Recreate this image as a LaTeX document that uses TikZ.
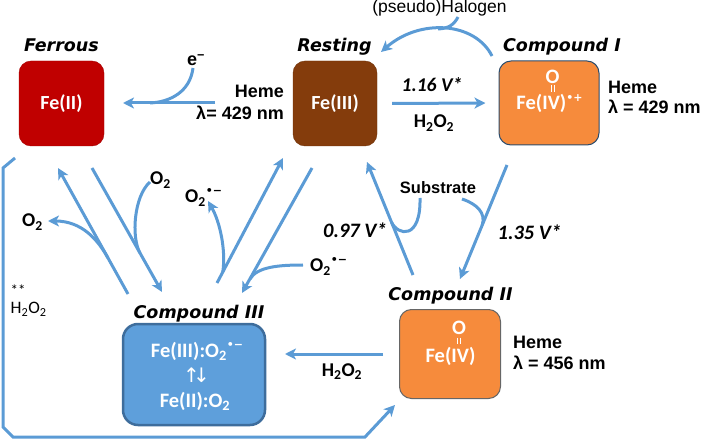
\documentclass[tikz,border=0pt]{standalone}
\usepackage{fontspec}
\setmainfont{Carlito}
\newfontfamily\labfont{DejaVu Sans Bold Oblique}
\newfontfamily\arfont{Liberation Sans}
\newfontfamily\djfont{DejaVu Sans}
\usetikzlibrary{arrows.meta}
\newcommand\hoo{H\textsubscript{2}O\textsubscript{2}}
\newcommand\rad[1]{\raisebox{0.42em}{\djfont\bfseries\fontsize{11}{11}\selectfont #1}}
\definecolor{acol}{HTML}{5B9BD5}
\definecolor{redc}{HTML}{C00000}
\definecolor{brownc}{HTML}{843C0C}
\definecolor{orangec}{HTML}{F68B3C}
\definecolor{bluec}{HTML}{5E9FDB}
\definecolor{blueb}{HTML}{3E6D9C}
\begin{document}
\begin{tikzpicture}[x=1pt,y=-1pt,
  arr/.style={draw=acol,line width=3pt,-{Stealth[length=11pt,width=11pt,inset=3pt]}},
  brn/.style={draw=acol,line width=3pt},
  statebox/.style={rectangle,rounded corners=12pt,inner sep=0pt,text=white,font=\bfseries\fontsize{20}{22}\selectfont},
  lbl/.style={font=\labfont\fontsize{17.5}{20}\selectfont,inner sep=0pt},
  heme/.style={font=\arfont\bfseries\fontsize{18}{20}\selectfont,inner sep=0pt},
  chem/.style={font=\bfseries\fontsize{19.5}{20}\selectfont,inner sep=0pt},
  wchem/.style={font=\bfseries\fontsize{20.5}{22}\selectfont,inner sep=0pt,text=white},
  volt/.style={font=\bfseries\itshape\fontsize{19.5}{20}\selectfont,inner sep=0pt},
  voltb/.style={font=\bfseries\itshape\fontsize{20.5}{22}\selectfont,inner sep=0pt}]
\useasboundingbox (0,0) rectangle (705,441);

% state boxes
\node[statebox,fill=redc,draw=redc!85!black,minimum width=85pt,minimum height=85pt] (fe2) at (61.5,103.5) {Fe(II)};
\node[statebox,fill=brownc,draw=brownc!85!black,minimum width=84pt,minimum height=85pt] (fe3) at (335,103.5) {Fe(III)};
\node[statebox,fill=orangec,draw=blueb!70!black,line width=1pt,minimum width=100pt,minimum height=84pt] (c1) at (549,103) {};
\node[statebox,fill=orangec,draw=black!60,line width=1pt,minimum width=101pt,minimum height=89pt] (c2) at (450,354) {};
\node[statebox,rounded corners=15pt,fill=bluec,draw=blueb,line width=2.5pt,minimum width=142pt,minimum height=101pt] (c3) at (194,374.5) {};

% box contents
\node[wchem] (c1o) at (552.5,77) {O};
\draw[white,line width=1pt] (551,85.5) -- (551,92.5) (554,85.5) -- (554,92.5);
\node[wchem,anchor=base] (c1fe) at (549.5,110) {Fe(IV)\rad{•+}};
\node[wchem] (c2o) at (459,327.5) {O};
\draw[white,line width=1pt] (457.5,337.5) -- (457.5,344) (460.5,337.5) -- (460.5,344);
\node[wchem,anchor=base] (c2fe) at (450.5,362) {Fe(IV)};
\node[wchem,anchor=base] (c3a) at (197,357) {Fe(III):O\textsubscript{2}\rad{•−}};
\node[text=white,font=\djfont\fontsize{20}{22}\selectfont,inner sep=0pt] (c3b) at (196.5,375) {↑\kern-7pt↓};
\node[wchem,anchor=base] (c3c) at (195,407) {Fe(II):O\textsubscript{2}};

% titles
\node[lbl,anchor=base] (lferr) at (61.5,52) {Ferrous};
\node[lbl,anchor=base] (lrest) at (334.5,52) {Resting};
\node[lbl,anchor=base] (lc1) at (562,52) {Compound I};
\node[lbl,anchor=base] (lc3) at (199,318) {Compound III};
\node[lbl,anchor=base] (lc2) at (450.5,300) {Compound II};

% heme labels
\node[heme,anchor=base east] (h1) at (284,98) {Heme};
\node[heme,anchor=base east] (h1b) at (284,120) {λ= 429 nm};
\node[heme,anchor=base west] (h2) at (608,94) {Heme};
\node[heme,anchor=base west] (h2b) at (608,114) {λ = 429 nm};
\node[heme,anchor=base west] (h3) at (513,348) {Heme};
\node[heme,anchor=base west] (h3b) at (513,369) {λ = 456 nm};

% other labels
\node[heme] (em) at (196,60) {e\textsuperscript{−}};
\node[font=\arfont\fontsize{17.5}{18}\selectfont,inner sep=0pt,anchor=base] (hal) at (439.5,13) {(pseudo)Halogen};
\node[volt,anchor=base] (v1) at (432,92) {1.16 V*};
\node[chem,anchor=base] (hp1) at (434,128) {\hoo};
\node[voltb,anchor=base] (v2) at (355,238) {0.97 V*};
\node[voltb,anchor=base] (v3) at (529.5,240) {1.35 V*};
\node[font=\arfont\bfseries\fontsize{16.5}{18}\selectfont,inner sep=0pt,anchor=base] (sub) at (438,194) {Substrate};
\node[chem,anchor=base west] (o2a) at (22,227) {O\textsubscript{2}};
\node[chem,anchor=base west] (o2b) at (150,185) {O\textsubscript{2}};
\node[chem,anchor=base west] (o2c) at (185,203) {O\textsubscript{2}\rad{•−}};
\node[chem,anchor=base west] (o2d) at (310,272) {O\textsubscript{2}\rad{•−}};
\node[chem,anchor=base] (hp2) at (342,376) {\hoo};
\node[font=\fontsize{15}{16}\selectfont,inner sep=0pt,anchor=base west] (stars) at (10.5,295) {**};
\node[font=\fontsize{17.5}{18}\selectfont,inner sep=0pt,anchor=base west] (hp3) at (10.5,313.5) {\hoo};

% coordinates
\coordinate (a1) at (215,103); \coordinate (a2) at (123,103);
\coordinate (b1) at (193,68); \coordinate (b2) at (150,103);
\coordinate (h1s) at (492,56); \coordinate (h1e) at (381,52);
\coordinate (h2s) at (458,17); \coordinate (h2e) at (438,29);
\coordinate (la1) at (128,294); \coordinate (la2) at (58,168);
\coordinate (lb1) at (92,168); \coordinate (lb2) at (162,292);
\coordinate (lc1s) at (217,283); \coordinate (lc2e) at (283,158);
\coordinate (ld1) at (312,168); \coordinate (ld2) at (242,293);
\coordinate (le1) at (413,275); \coordinate (le2) at (367,162);
\coordinate (lf1) at (507,165); \coordinate (lf2) at (460,279);
\coordinate (q1) at (383,354); \coordinate (q2) at (285,354);

% arrows
\draw[arr] (a1) -- (a2);
\draw[brn] (b1) .. controls (190,92) and (170,102) .. (b2);
\draw[arr] ([xshift=15pt]fe3.east) -- ([xshift=-13pt]c1.west);
\draw[arr] (h1s) .. controls (475,22) and (420,18) .. (h1e);
\draw[brn] (h2s) .. controls (454,25) and (448,28.5) .. (h2e);

\draw[arr] (la1) -- (la2);
\draw[arr] (108,258) .. controls (98,240) and (82,221) .. (48,221);
\draw[arr] (lb1) -- (lb2);
\draw[brn] (150,182) .. controls (134,196) and (131,237) .. (140,253);
\draw[arr] (lc1s) -- (lc2e);
\draw[arr] (222.8,272) .. controls (226,250) and (220,222) .. (208,201);
\draw[arr] (ld1) -- (ld2);
\draw[brn] (303,265) .. controls (278,265) and (257,267) .. (250,279);
\draw[arr] (le1) -- (le2);
\draw[brn] (420,198) .. controls (421,240) and (398,236) .. (391.4,222);
\draw[arr] (lf1) -- (lf2);
\draw[brn] (462,199) .. controls (477,204) and (486,213) .. (482.3,225);
\draw[arr] (q1) -- (q2);
\draw[arr] (15,158) -- (3,168) -- (3,427) -- (13,437) -- (365,437) -- (395,405);
\end{tikzpicture}
\end{document}
